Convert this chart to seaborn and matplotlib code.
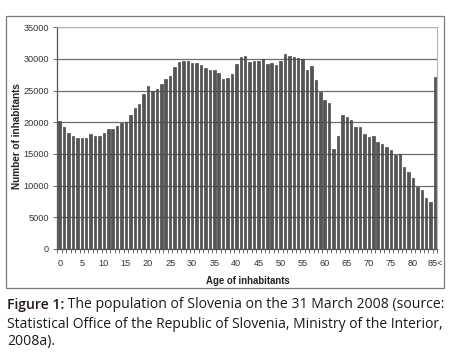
import matplotlib
matplotlib.use('Agg')
import matplotlib.pyplot as plt
import seaborn as sns
import pandas as pd
from matplotlib.patches import Rectangle
from matplotlib.ticker import FixedLocator

# population by age (0 .. 85 and over)
ages = [str(a) for a in range(85)] + ["85<"]
population = [
    20200, 19200, 18270, 17900, 17580, 17470, 17580, 18210, 17790, 17900,
    18270, 18900, 19000, 19370, 19950, 20050, 21100, 22310, 22840, 24530,
    25740, 24950, 25230, 26080, 26850, 27340, 28690, 29480, 29670, 29670,
    29400, 29420, 29030, 28530, 28260, 28260, 27810, 26900, 27070, 27630,
    29160, 30370, 30530, 29580, 29690, 29690, 29950, 29210, 29370, 29100,
    29640, 30790, 30530, 30370, 30210, 29950, 28260, 28950, 26690, 24740,
    23530, 23100, 15740, 17850, 21080, 20890, 20300, 19230, 19230, 18100,
    17650, 17840, 16840, 16530, 16050, 15580, 14890, 15000, 12900, 12160,
    11210, 9840, 9320, 8000, 7370, 27160,
]
xtick_labels = ["0", "5", "10", "15", "20", "25", "30", "35", "40",
                "45", "50", "55", "60", "65", "70", "75", "80", "85<"]
yticks = [0, 5000, 10000, 15000, 20000, 25000, 30000, 35000]

df = pd.DataFrame({"age": ages, "population": population})

sns.set_style("white")
plt.rcParams['font.family'] = ['Liberation Sans', 'DejaVu Sans']

W, H = 458, 359
fig = plt.figure(figsize=(W / 100, H / 100), dpi=100)

def px(x0, y0, x1, y1):
    return [x0 / W, 1 - y1 / H, (x1 - x0) / W, (y1 - y0) / H]

# outer chart frame
fig.patches.append(Rectangle((6 / W, 1 - 288 / H), (444 - 6) / W, (288 - 16) / H,
                             transform=fig.transFigure, fill=False,
                             edgecolor="#7a7a7a", linewidth=0.9))

ax = fig.add_axes(px(57.5, 27.3, 437.3, 249))
sns.barplot(data=df, x="age", y="population", order=ages, color="#555555",
            edgecolor="#333333", linewidth=0.4, width=0.56, saturation=1, ax=ax)

ax.set_xlim(-0.5, len(ages) - 0.5)
ax.set_ylim(0, 35000)
ax.set_yticks(yticks)
ax.set_yticklabels([str(v) for v in yticks], fontsize=6.6, color="#333333")
ax.yaxis.grid(True, color="#6e6e6e", linewidth=0.9)
ax.set_axisbelow(True)

label_pos = [ages.index(l) for l in xtick_labels]
ax.set_xticks(label_pos)
ax.set_xticklabels(xtick_labels, fontsize=6.6, color="#333333")
ax.xaxis.set_minor_locator(FixedLocator([i - 0.5 for i in range(len(ages) + 1)]))
ax.tick_params(axis="x", which="major", length=0, pad=7)
ax.tick_params(axis="x", which="minor", length=3, width=0.6, color="#555555", bottom=True)
ax.tick_params(axis="y", which="major", length=3, width=0.6, color="#555555", left=True, pad=3)

for side in ["left", "bottom"]:
    ax.spines[side].set_color("#555555")
    ax.spines[side].set_linewidth(0.9)
ax.spines["top"].set_color("#b5b5b5")
ax.spines["right"].set_color("#b5b5b5")
ax.spines["top"].set_linewidth(0.8)
ax.spines["right"].set_linewidth(0.8)
for side in ["top", "right"]:
    ax.spines[side].set_visible(True)

ax.set_xlabel("")
ax.set_ylabel("")
fig.text(248 / W, 1 - 281 / H, "Age of inhabitants", fontsize=6.9, fontweight="bold",
         ha="center", va="center", color="#222222")
fig.text(17 / W, 1 - 136 / H, "Number of inhabitants", fontsize=7.2, fontweight="bold",
         rotation=90, ha="center", va="center", color="#222222")

# caption under the chart
cap_font = ['Open Sans', 'DejaVu Sans']
renderer = fig.canvas.get_renderer()
line1a = "Figure 1:"
line1b = " The population of Slovenia on the 31 March 2008 (source:"
line2 = "Statistical Office of the Republic of Slovenia, Ministry of the Interior,"
line3 = "2008a)."

size = 10.5
probe = fig.text(0, 0, line1a + line1b, fontsize=size, family=cap_font)
wpx = probe.get_window_extent(renderer).width
probe.remove()
size = size * 436 / wpx

x0 = 7 / W
t1 = fig.text(x0, 1 - 305 / H, line1a, fontsize=size, family=cap_font,
              fontweight="semibold", color="#2a1616", va="center")
w1 = t1.get_window_extent(renderer).width
fig.text(x0 + w1 / W, 1 - 305 / H, line1b, fontsize=size, family=cap_font,
         color="#1a1a1a", va="center")
fig.text(x0, 1 - 324 / H, line2, fontsize=size * 0.99, family=cap_font,
         color="#1a1a1a", va="center")
fig.text(x0, 1 - 342 / H, line3, fontsize=size, family=cap_font,
         color="#1a1a1a", va="center")

fig.savefig("out.png", dpi=100, facecolor="white")
